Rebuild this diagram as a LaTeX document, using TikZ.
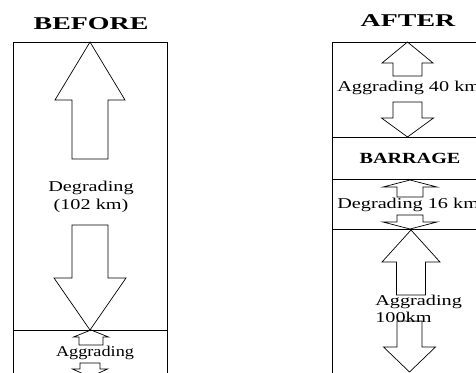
\documentclass[tikz,border=0pt]{standalone}
\usepackage{fontspec}
\setmainfont{Liberation Serif}
\usetikzlibrary{positioning}

% hollow block arrow: tip x, tip y, head half width, head base y, shaft half width, shaft end y
\newcommand{\flowarrow}[6]{%
  \draw[arr] (#1,#2) -- (#1+#3,#4) -- (#1+#5,#4) -- (#1+#5,#6) -- (#1-#5,#6)
    -- (#1-#5,#4) -- (#1-#3,#4) -- cycle;}

\begin{document}
\begin{tikzpicture}[
  x=1pt, y=-1pt,
  reach/.style={draw=black, line width=0.9pt},
  arr/.style={draw=black, line width=0.7pt, line join=miter},
  ttl/.style={font=\fontsize{18}{20}\selectfont\bfseries, inner sep=0pt, xscale=1.55},
  lbl/.style={font=\fontsize{15}{18}\selectfont, inner sep=0pt, xscale=1.35},
  brg/.style={font=\fontsize{15.5}{18}\selectfont\bfseries, inner sep=0pt, xscale=1.3}
]
\fill[white] (0,0) rectangle (476,372);
\clip (0,0) rectangle (476,372);

% Titles
\node[ttl] (before) at (91,24) {BEFORE};
\node[ttl] (after)  at (408,21) {AFTER};

% Left reach (before the barrage)
\draw[reach] (13,380) -- (13,42) -- (167,42) -- (167,380);
\draw[reach] (13,330) -- (167,330);

\flowarrow{90}{42}{35}{100}{18}{159}
\flowarrow{90}{330}{36}{278}{18}{225}
\flowarrow{91}{330}{17.5}{337}{12}{345}
\flowarrow{90}{377}{17.5}{369}{10}{363}

\node[lbl, align=center] (degr) at (91,197) {Degrading\\(102 km)};
\node[lbl, xscale=0.9] (aggl) at (95,353) {Aggrading};

% Right reach (after the barrage)
\draw[reach] (332,380) -- (332,42) -- (500,42);
\draw[reach] (332,137) -- (500,137);
\draw[reach] (332,179) -- (500,179);
\draw[reach] (332,229) -- (500,229);

\flowarrow{407.5}{42}{25.5}{63}{14.5}{76}
\flowarrow{407.5}{137}{26}{118}{14.5}{102}
\flowarrow{410}{180}{27}{187}{13}{197}
\flowarrow{410}{229}{27}{222}{13}{215}
\flowarrow{411}{230}{29}{262}{14.5}{295}
\flowarrow{409.5}{372}{26}{347}{12.5}{321}

\node[lbl, anchor=west] (agg40) at (337,88) {Aggrading 40 km};
\node[brg] (barrage) at (410,158) {BARRAGE};
\node[lbl, anchor=west] (deg16) at (337,205) {Degrading 16 km};
\node[lbl, anchor=west, align=left, font=\fontsize{15}{17}\selectfont] (agg100) at (375,308.5) {Aggrading\\100km};
\end{tikzpicture}
\end{document}
